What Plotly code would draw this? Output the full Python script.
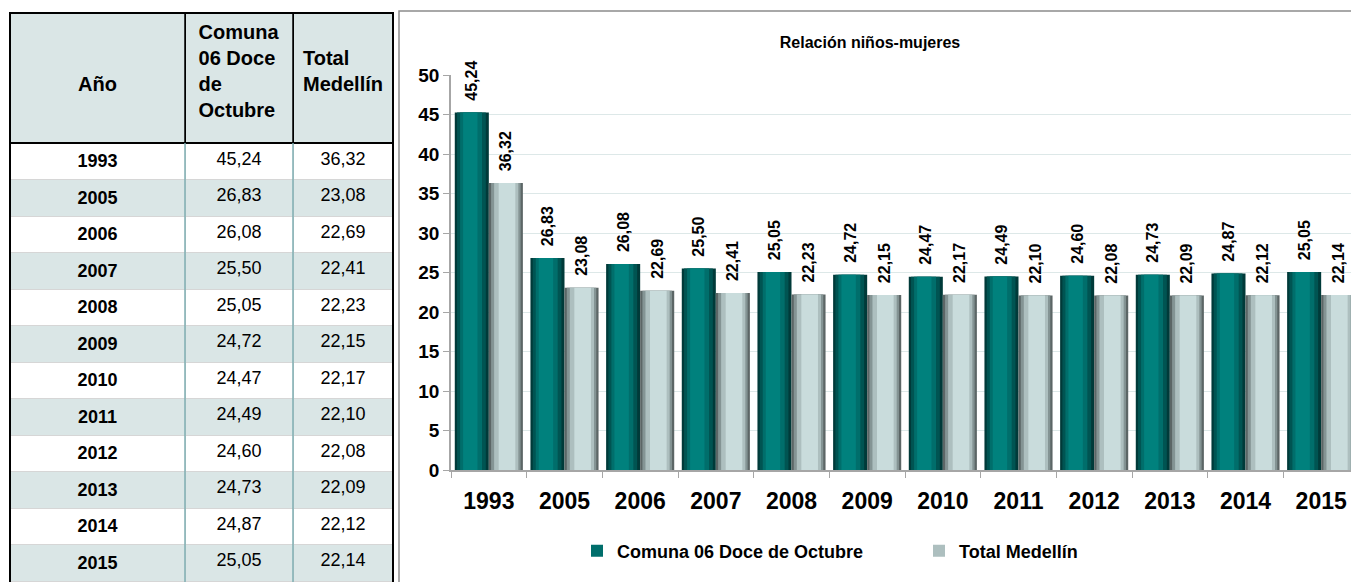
import plotly.graph_objects as go

# the page body has an 8px margin, so the figure is 8px smaller and every
# reference pixel is shifted by that amount
OFF = 8
W, H = 1359 - OFF, 582 - OFF

years = ["1993", "2005", "2006", "2007", "2008", "2009", "2010",
         "2011", "2012", "2013", "2014", "2015"]
comuna = [45.24, 26.83, 26.08, 25.50, 25.05, 24.72, 24.47,
          24.49, 24.60, 24.73, 24.87, 25.05]
medellin = [36.32, 23.08, 22.69, 22.41, 22.23, 22.15, 22.17,
            22.10, 22.08, 22.09, 22.12, 22.14]

NB = "\u00a0"
col_headers = [NB + "<br>" + NB + "<br><b>Año</b>",
               "<b>Comuna<br>06 Doce<br>de<br>Octubre</b>",
               NB + "<br><b>Total<br>Medellín</b>"]
series_names = ["Comuna 06 Doce de Octubre", "Total Medellín"]

FONT = "Arial, Liberation Sans, sans-serif"
BAND = "#DAE6E6"

# (left inset, right inset, colour) layers that fake the cylinder shading
TEAL_LAYERS = [(0.0, 0.0, "#003A39"), (0.03, 0.04, "#005452"),
               (0.07, 0.09, "#006E6B"), (0.11, 0.15, "#00817D")]
GREY_LAYERS = [(0.0, 0.0, "#5C6666"), (0.03, 0.03, "#849494"),
               (0.07, 0.06, "#ADBFBF"), (0.13, 0.10, "#C9DCDC")]
BAR_W = 0.45


def px(x):
    return (x - OFF) / W


def py(y):
    return 1 - (y - OFF) / H


def comma(v):
    return ("%.2f" % v).replace(".", ",")


row_fill = ["white" if i % 2 == 0 else BAND for i in range(len(years))]

fig = go.Figure()

fig.add_trace(go.Table(
    domain=dict(x=[px(10), px(393)], y=[0, py(13)]),
    columnwidth=[175, 108, 100],
    header=dict(
        values=col_headers,
        fill_color=BAND,
        line=dict(color="black", width=1),
        align="center",
        height=130,
        font=dict(family=FONT, size=20, color="black"),
    ),
    cells=dict(
        values=[["<b>%s</b>" % y for y in years],
                [comma(v) for v in comuna],
                [comma(v) for v in medellin]],
        fill_color=[row_fill] * 3,
        line=dict(color="#D6D6D6", width=1),
        align="center",
        height=36.5,
        font=dict(family=FONT, size=18, color="black"),
    ),
))

for k, (name, vals, layers) in enumerate(((series_names[0], comuna, TEAL_LAYERS),
                                          (series_names[1], medellin, GREY_LAYERS))):
    start = -BAR_W + k * BAR_W
    for i, (li, ri, col) in enumerate(layers):
        first = i == 0
        fig.add_trace(go.Bar(
            x=years, y=vals, name=name,
            offset=start + li, width=BAR_W - li - ri,
            marker=dict(color=col, line=dict(width=0)),
            showlegend=(i == 2), legendgroup=name,
            texttemplate=NB + NB + "%{y:.2f}" if first else None,
            textposition="outside" if first else "none",
            textangle=-90,
            textfont=dict(family=FONT, size=16, color="black", weight="bold"),
            constraintext="none",
            cliponaxis=False,
        ))

shapes = [
    # chart frame
    dict(type="rect", xref="paper", yref="paper", x0=px(399), x1=px(1362), y0=py(590), y1=py(11),
         line=dict(color="#8C8C8C", width=1.5), layer="below"),
    # table outer border
    dict(type="rect", xref="paper", yref="paper", x0=px(10), x1=px(393), y0=py(590), y1=py(13),
         line=dict(color="black", width=2)),
    dict(type="line", xref="paper", yref="paper", x0=px(10), x1=px(393), y0=py(143), y1=py(143),
         line=dict(color="black", width=2)),
]
for xx in (185, 293):
    shapes.append(dict(type="line", xref="paper", yref="paper", x0=px(xx), x1=px(xx),
                       y0=py(143), y1=py(13), line=dict(color="black", width=1.5)))
    shapes.append(dict(type="line", xref="paper", yref="paper", x0=px(xx), x1=px(xx),
                       y0=py(590), y1=py(143), line=dict(color="#7EAEB2", width=1.5)))

fig.update_layout(
    width=W, height=H,
    margin=dict(l=0, r=0, t=0, b=0, autoexpand=False),
    paper_bgcolor="white", plot_bgcolor="white",
    separators=",.",
    font=dict(family=FONT, color="black"),
    barmode="overlay",
    title=dict(text="<b>Relación niños-mujeres</b>", x=px(870), xanchor="center",
               y=py(42), yanchor="middle", font=dict(size=16, family=FONT)),
    xaxis=dict(domain=[px(451), 1.0], type="category", automargin=False,
               range=[-0.5, len(years) - 0.5],
               showline=True, linecolor="#A6A6A6", linewidth=1.5,
               ticks="outside", tickson="boundaries", ticklen=6, tickcolor="#A6A6A6",
               tickfont=dict(size=23, family=FONT, weight="bold"),
               ticklabelstandoff=10, showgrid=False),
    yaxis=dict(domain=[py(470), py(75)], range=[0, 50], dtick=5, automargin=False,
               showline=True, linecolor="#A6A6A6", linewidth=1.5,
               ticks="outside", ticklen=6, tickcolor="#A6A6A6",
               gridcolor="#DDE8E8", gridwidth=1,
               tickfont=dict(size=19, family=FONT, weight="bold"),
               zeroline=False),
    legend=dict(orientation="h", x=px(577), xanchor="left", y=py(551), yanchor="middle",
                entrywidth=297,
                font=dict(size=18, family=FONT, weight="bold"),
                traceorder="normal"),
    shapes=shapes,
)

fig.write_html("out.html")
